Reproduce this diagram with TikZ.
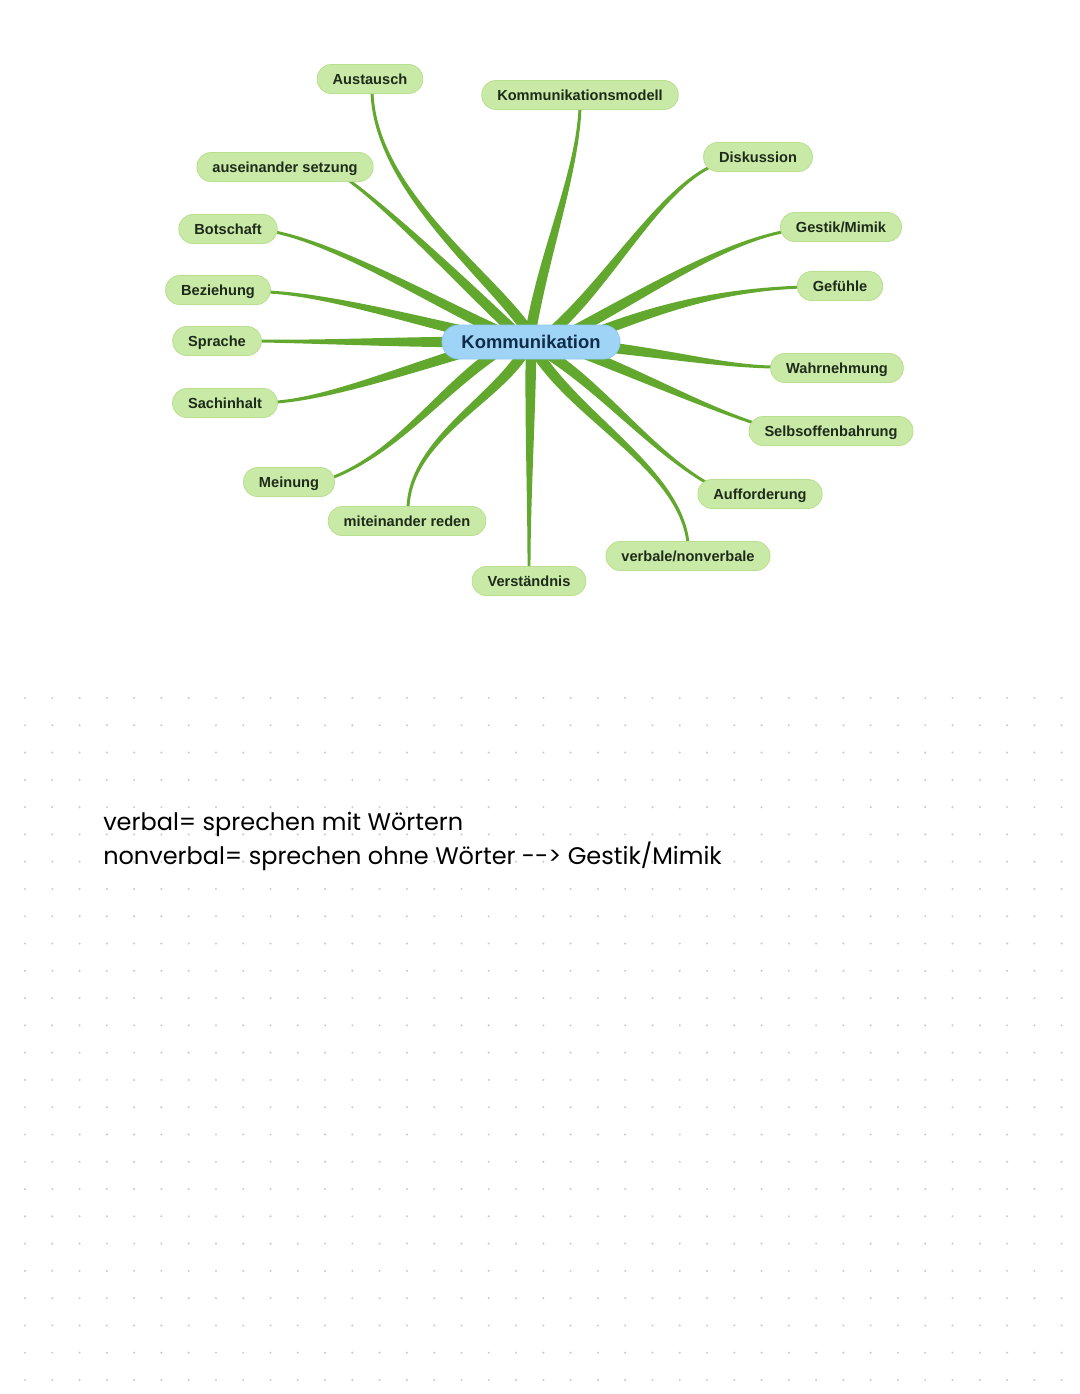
\documentclass[tikz,border=0pt]{standalone}
\usepackage{fontspec}
\setmainfont{Liberation Sans}
\newfontfamily\handfont{Poppins}
\usetikzlibrary{calc,backgrounds}
\definecolor{branchcol}{HTML}{62A82E}
\definecolor{leaffill}{HTML}{C9E9A6}
\definecolor{leafdraw}{HTML}{B9E090}
\definecolor{rootfill}{HTML}{9FD4F7}
\definecolor{rootdraw}{HTML}{8CC8EF}
\definecolor{leaftext}{HTML}{1E2A1A}
\definecolor{roottext}{HTML}{0F2C48}
\definecolor{dotcol}{HTML}{CFCFCF}
\newcommand\mmbranch[6]{%
  \coordinate (bS) at #1; \coordinate (bA) at #2; \coordinate (bB) at #3; \coordinate (bE) at #4;
  \fill[branchcol] ($(bS)!#5!90:(bA)$) .. controls ($(bA)!#5!-90:(bS)$) and ($(bB)!#6!90:(bE)$) .. ($(bE)!#6!-90:(bB)$)
    -- ($(bE)!#6!90:(bB)$) .. controls ($(bB)!#6!-90:(bE)$) and ($(bA)!#5!90:(bS)$) .. ($(bS)!#5!-90:(bA)$) -- cycle;}
\begin{document}
\begin{tikzpicture}[x=0.75pt,y=-0.75pt,
  leaf/.style={draw=leafdraw,line width=0.6pt,fill=leaffill,rounded corners=10.5pt,minimum height=21.75pt,
    inner xsep=11.6pt,inner ysep=0pt,text height=7.9pt,text depth=0pt,text=leaftext,
    font=\fontsize{10.95}{13}\selectfont\bfseries},
  root/.style={draw=rootdraw,line width=0.6pt,fill=rootfill,rounded corners=12.5pt,minimum height=25.5pt,
    inner xsep=14.6pt,inner ysep=0pt,text height=9.9pt,text depth=0pt,text=roottext,
    font=\fontsize{13.8}{16}\selectfont\bfseries},
  hand/.style={anchor=base west,inner sep=0pt,font=\handfont\fontsize{18}{21}\selectfont}]
\useasboundingbox (0,0) rectangle (1080,1394);

\node[root] (k) at (531,342) {Kommunikation};
\node[leaf] (aus) at (370,79) {Austausch};
\node[leaf] (kmod) at (580,95) {Kommunikationsmodell};
\node[leaf] (disk) at (758,157) {Diskussion};
\node[leaf] (ause) at (285,167) {auseinander setzung};
\node[leaf] (bot) at (228,229) {Botschaft};
\node[leaf] (gest) at (841,227) {Gestik/Mimik};
\node[leaf] (gef) at (840,286) {Gefühle};
\node[leaf] (bez) at (218,290) {Beziehung};
\node[leaf] (spr) at (217,341) {Sprache};
\node[leaf] (wahr) at (837,368) {Wahrnehmung};
\node[leaf] (sach) at (225,403) {Sachinhalt};
\node[leaf] (selb) at (831,431) {Selbsoffenbahrung};
\node[leaf] (mein) at (289,482) {Meinung};
\node[leaf] (auff) at (760,494) {Aufforderung};
\node[leaf] (mit) at (407,521) {miteinander reden};
\node[leaf] (verb) at (688,556) {verbale/nonverbale};
\node[leaf] (vers) at (529,581) {Verständnis};

\begin{pgfonlayer}{background}
\fill[white] (0,0) rectangle (1080,1394);
\foreach \i in {0,...,38} \foreach \j in {0,...,25}
  \fill[dotcol] ({25+\i*27.28},{698+\j*27.28}) circle (0.9pt);
\mmbranch{($(k)+(-4,-12)$)}{(490,275)}{(375,190)}{($(aus)+(2,13)$)}{4pt}{1.1pt}
\mmbranch{($(k)+(0,-12)$)}{(545,250)}{(578,170)}{($(kmod)+(0,12)$)}{4pt}{1.1pt}
\mmbranch{($(k)+(-16,-10)$)}{(460,280)}{(390,210)}{($(ause)+(62,12)$)}{4pt}{1.1pt}
\mmbranch{($(k)+(-26,-8)$)}{(440,305)}{(340,245)}{($(bot)+(47,3)$)}{4pt}{1.1pt}
\mmbranch{($(k)+(-41,-5)$)}{(420,322)}{(330,295)}{($(bez)+(50,2)$)}{4pt}{1.1pt}
\mmbranch{($(k)+(-51,0)$)}{(400,342)}{(320,342)}{($(spr)+(43,0)$)}{4pt}{1.1pt}
\mmbranch{($(k)+(-49,5)$)}{(410,368)}{(330,398)}{($(sach)+(52,-1)$)}{4pt}{1.1pt}
\mmbranch{($(k)+(-31,8)$)}{(440,390)}{(400,450)}{($(mein)+(45,-5)$)}{4pt}{1.1pt}
\mmbranch{($(k)+(-7,10)$)}{(495,400)}{(410,440)}{($(mit)+(1,-13)$)}{4pt}{1.1pt}
\mmbranch{($(k)+(0,10)$)}{(530,420)}{(529,500)}{($(vers)+(0,-13)$)}{4pt}{1.1pt}
\mmbranch{($(k)+(5,10)$)}{(580,420)}{(680,470)}{($(verb)+(0,-13)$)}{4pt}{1.1pt}
\mmbranch{($(k)+(11,8)$)}{(600,385)}{(650,450)}{($(auff)+(-53,-11)$)}{4pt}{1.1pt}
\mmbranch{($(k)+(39,6)$)}{(640,375)}{(700,405)}{($(selb)+(-77,-8)$)}{4pt}{1.1pt}
\mmbranch{($(k)+(54,3)$)}{(660,352)}{(720,366)}{($(wahr)+(-65,-1)$)}{4pt}{1.1pt}
\mmbranch{($(k)+(59,-7)$)}{(660,308)}{(720,290)}{($(gef)+(-38,1)$)}{4pt}{1.1pt}
\mmbranch{($(k)+(41,-10)$)}{(650,290)}{(720,245)}{($(gest)+(-59,5)$)}{4pt}{1.1pt}
\mmbranch{($(k)+(22,-11)$)}{(610,280)}{(660,190)}{($(disk)+(-46,9)$)}{4pt}{1.1pt}
\end{pgfonlayer}

\node[hand] (l1) at (103,830) {verbal= sprechen mit Wörtern};
\node[hand] (l2) at (103,864) {nonverbal= sprechen ohne Wörter --> Gestik/Mimik};
\end{tikzpicture}
\end{document}
